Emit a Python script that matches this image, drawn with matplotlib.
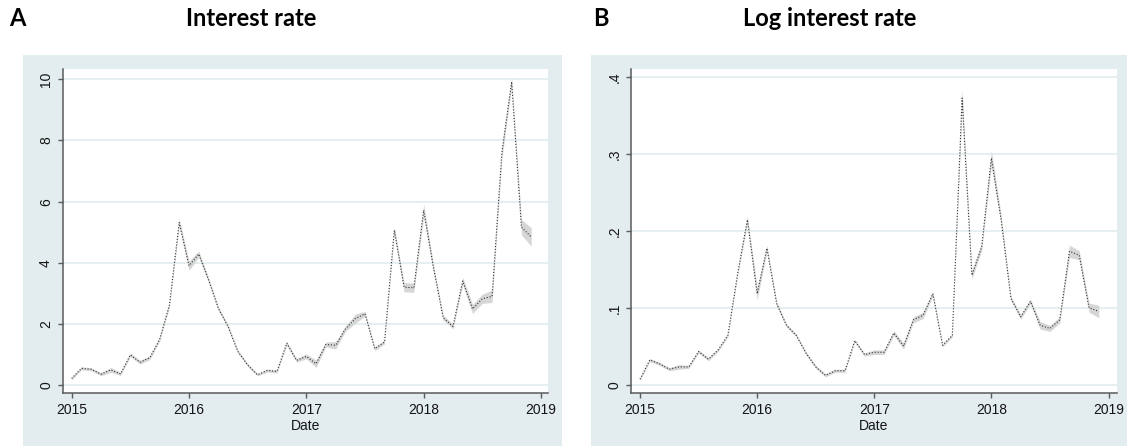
import numpy as np
import matplotlib
matplotlib.use("Agg")
import matplotlib.pyplot as plt
from matplotlib.patches import Rectangle

# Monthly observations, January 2015 to December 2018
start_year = 2015
n_months = 48

rate = [0.23, 0.56, 0.53, 0.37, 0.51, 0.38, 1.00, 0.76, 0.91, 1.51, 2.63, 5.32,
        3.91, 4.29, 3.45, 2.52, 1.92, 1.11, 0.67, 0.35, 0.49, 0.46, 1.38, 0.82,
        0.95, 0.71, 1.34, 1.31, 1.85, 2.18, 2.34, 1.20, 1.42, 5.07, 3.21, 3.19,
        5.72, 3.85, 2.21, 1.93, 3.41, 2.50, 2.83, 2.91, 7.60, 9.91, 5.17, 4.85]
rate_ci = [0.05, 0.05, 0.05, 0.05, 0.08, 0.05, 0.06, 0.06, 0.06, 0.06, 0.08, 0.12,
           0.15, 0.10, 0.08, 0.06, 0.06, 0.05, 0.05, 0.04, 0.05, 0.05, 0.06, 0.06,
           0.08, 0.12, 0.08, 0.12, 0.08, 0.15, 0.08, 0.06, 0.06, 0.12, 0.15, 0.15,
           0.20, 0.12, 0.08, 0.08, 0.12, 0.15, 0.15, 0.20, 0.20, 0.15, 0.25, 0.30]

log_rate = [0.008, 0.033, 0.028, 0.021, 0.024, 0.024, 0.044, 0.034, 0.046, 0.065, 0.145, 0.215,
            0.119, 0.178, 0.106, 0.078, 0.065, 0.042, 0.024, 0.013, 0.019, 0.019, 0.058, 0.040,
            0.043, 0.043, 0.068, 0.051, 0.085, 0.091, 0.119, 0.052, 0.065, 0.373, 0.143, 0.180,
            0.295, 0.215, 0.113, 0.089, 0.109, 0.078, 0.074, 0.085, 0.174, 0.169, 0.101, 0.096]
log_ci = [0.002, 0.002, 0.002, 0.002, 0.003, 0.002, 0.002, 0.002, 0.002, 0.002, 0.003, 0.005,
          0.008, 0.004, 0.003, 0.002, 0.002, 0.002, 0.002, 0.002, 0.002, 0.002, 0.002, 0.002,
          0.003, 0.003, 0.003, 0.004, 0.004, 0.004, 0.003, 0.002, 0.002, 0.012, 0.005, 0.005,
          0.010, 0.006, 0.003, 0.003, 0.003, 0.005, 0.004, 0.004, 0.008, 0.006, 0.006, 0.008]

year_ticks = [2015, 2016, 2017, 2018, 2019]
rate_ticks = [0, 2, 4, 6, 8, 10]
rate_tick_labels = ["0", "2", "4", "6", "8", "10"]
log_ticks = [0, 0.1, 0.2, 0.3, 0.4]
log_tick_labels = ["0", ".1", ".2", ".3", ".4"]

panel_letters = ["A", "B"]
panel_titles = ["Interest rate", "Log interest rate"]
x_label = "Date"

W, H = 1127, 446
BG = "#e3ecee"
GRID = "#e3eef0"
AXIS = "#5a5a5a"

fig = plt.figure(figsize=(W / 100, H / 100), dpi=100)
fig.patch.set_facecolor("white")

dates = start_year + np.arange(n_months) / 12.0


def px(x0, y0, x1, y1):
    """Pixel box (top-left origin) to figure-fraction rect."""
    return [x0 / W, 1 - y1 / H, (x1 - x0) / W, (y1 - y0) / H]


# light Stata-style graph regions behind each plot
for x0, x1 in [(22.5, 562), (591, 1127)]:
    fig.patches.append(Rectangle((x0 / W, 0), (x1 - x0) / W, 1 - 55 / H,
                                 transform=fig.transFigure, facecolor=BG,
                                 edgecolor="none", zorder=-5))

panels = [
    dict(box=(62.5, 69, 548, 393), y=rate, ci=rate_ci, ylim=(-0.245, 10.33),
         xlim=(2014.922, 2019.06), ticks=rate_ticks, labels=rate_tick_labels,
         letter_x=9, title_cx=251),
    dict(box=(631, 69, 1116.7, 393), y=log_rate, ci=log_ci, ylim=(-0.0099, 0.4108),
         xlim=(2014.923, 2019.07), ticks=log_ticks, labels=log_tick_labels,
         letter_x=593, title_cx=830),
]

for i, p in enumerate(panels):
    ax = fig.add_axes(px(*p["box"]))
    ax.set_zorder(2)
    ax.set_facecolor("white")
    y = np.array(p["y"])
    ci = np.array(p["ci"])
    ax.fill_between(dates, y - ci, y + ci, color="#d6d6d6", linewidth=0, zorder=2)
    ax.plot(dates, y, color="#333333", linewidth=0.8, linestyle=(0, (1, 1.6)), zorder=3)

    ax.set_xlim(*p["xlim"])
    ax.set_ylim(*p["ylim"])
    ax.set_xticks(year_ticks)
    ax.set_xticklabels([str(t) for t in year_ticks])
    ax.set_yticks(p["ticks"])
    ax.set_yticklabels(p["labels"], rotation=90, va="center")
    ax.yaxis.grid(True, color=GRID, linewidth=1.3, zorder=1)
    ax.set_axisbelow(True)

    for s in ["top", "right"]:
        ax.spines[s].set_visible(False)
    for s in ["left", "bottom"]:
        ax.spines[s].set_color(AXIS)
        ax.spines[s].set_linewidth(1.1)
    ax.tick_params(axis="both", colors=AXIS, length=3.8, width=1.0,
                   labelcolor="#151515", labelsize=10)
    ax.tick_params(axis="x", pad=3.5)
    ax.tick_params(axis="y", pad=3)
    for lab in ax.get_xticklabels() + ax.get_yticklabels():
        lab.set_family("Liberation Sans")
    ax.set_xlabel(x_label, fontsize=10, family="Liberation Sans",
                  color="#151515", labelpad=1.5)

    fig.text(p["letter_x"] / W, 1 - 18.5 / H, panel_letters[i], fontsize=17,
             fontweight="bold", family="Lato", ha="left", va="center")
    fig.text(p["title_cx"] / W, 1 - 18.5 / H, panel_titles[i], fontsize=17,
             fontweight="bold", family="Lato", ha="center", va="center")

fig.savefig("out.png", dpi=100, facecolor="white")
